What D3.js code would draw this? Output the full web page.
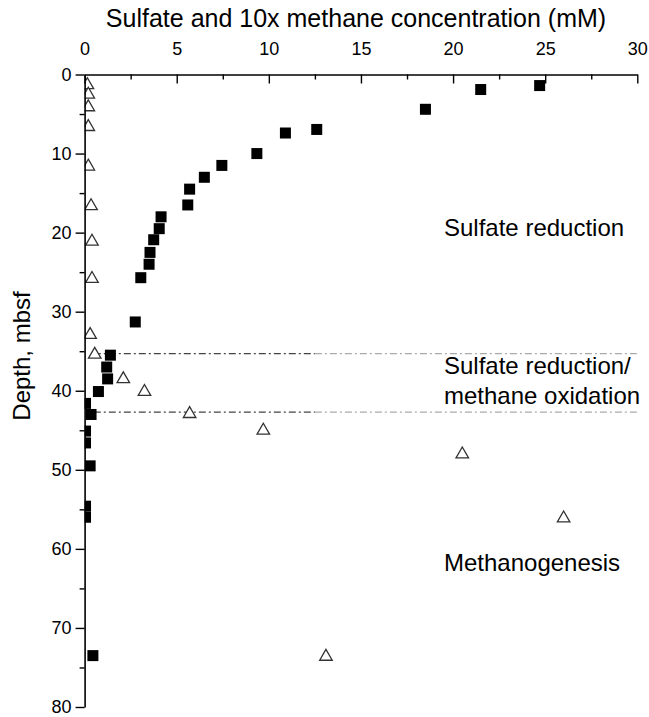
<!DOCTYPE html>
<html>
<head>
<meta charset="utf-8">
<script src="https://cdn.jsdelivr.net/npm/d3@7"></script>
<style>
  body { margin: 0; background: #fff; }
  svg { font-family: "Liberation Sans", Arial, sans-serif; }
</style>
</head>
<body>
<svg id="chart" width="649" height="717"></svg>
<script>
// sulfate (filled squares): depth in mbsf, concentration in mM
const sulfateDepth = [1.4, 1.9, 4.4, 6.95, 7.4, 10.0, 11.5, 13.0, 14.5, 16.5, 18.0, 19.5, 20.9, 22.5, 24.0, 25.7, 31.3,
  35.5, 37.0, 38.5, 40.1, 41.6, 43.0, 45.1, 46.6, 49.5, 54.6, 56.0, 73.5];
const sulfateConc = [24.7, 21.5, 18.5, 12.6, 10.9, 9.35, 7.45, 6.5, 5.7, 5.6, 4.15, 4.05, 3.75, 3.55, 3.5, 3.05, 2.75,
  1.4, 1.2, 1.25, 0.75, 0.05, 0.35, 0.05, 0.05, 0.3, 0.05, 0.05, 0.45];

// methane x10 (open triangles)
const methaneDepth = [1.2, 2.4, 4.0, 6.5, 11.5, 16.5, 21.0, 25.7, 32.8, 35.3, 38.4, 40.0, 42.8, 44.9, 47.9, 56.0, 73.5];
const methaneConc = [0.15, 0.2, 0.2, 0.2, 0.2, 0.35, 0.4, 0.4, 0.3, 0.55, 2.1, 3.25, 5.7, 9.7, 20.5, 26.0, 13.1];

const zoneBounds = [35.3, 42.7];
const zoneLabels = [
  { lines: ["Sulfate reduction"], depth: 20.4 },
  { lines: ["Sulfate reduction/", "methane oxidation"], depth: 37.9 },
  { lines: ["Methanogenesis"], depth: 62.8 }
];

const xTicks = [0, 5, 10, 15, 20, 25, 30];
const yTicks = [0, 10, 20, 30, 40, 50, 60, 70, 80];

const svg = d3.select('#chart');
const x = d3.scaleLinear().domain([0, 30]).range([84.6, 637.3]);
const y = d3.scaleLinear().domain([0, 80]).range([74.5, 707]);

// title
svg.append('text')
  .attr('x', 356).attr('y', 27)
  .attr('text-anchor', 'middle')
  .style('font-size', '25px')
  .text('Sulfate and 10x methane concentration (mM)');

// y label
svg.append('text')
  .attr('transform', 'translate(30,356) rotate(-90)')
  .attr('text-anchor', 'middle')
  .style('font-size', '24px')
  .text('Depth, mbsf');

// boundary lines (dash-dot, darker on the left half)
const bounds = svg.append('g');
zoneBounds.forEach(d => {
  bounds.append('line')
    .attr('x1', x(0.5)).attr('x2', x(12.5))
    .attr('y1', y(d)).attr('y2', y(d))
    .attr('stroke', '#444').attr('stroke-width', 1.3)
    .attr('stroke-dasharray', '7,3,2,3');
  bounds.append('line')
    .attr('x1', x(12.5)).attr('x2', x(30))
    .attr('y1', y(d)).attr('y2', y(d))
    .attr('stroke', '#aaa').attr('stroke-width', 1.2)
    .attr('stroke-dasharray', '7,3,2,3');
});

// zone labels
zoneLabels.forEach(z => {
  const t = svg.append('text')
    .attr('x', 444).attr('y', y(z.depth))
    .style('font-size', '24px');
  z.lines.forEach((l, i) => t.append('tspan').attr('x', 444).attr('dy', i ? 30 : 0).text(l));
});

// markers clipped at the depth axis
svg.append('clipPath').attr('id', 'plotClip')
  .append('rect').attr('x', 84.6).attr('y', 60).attr('width', 600).attr('height', 660);
const plot = svg.append('g').attr('clip-path', 'url(#plotClip)');

const sq = 11;
plot.selectAll('rect.sulfate')
  .data(d3.range(sulfateDepth.length))
  .join('rect')
  .attr('class', 'sulfate')
  .attr('x', i => x(sulfateConc[i]) - sq / 2)
  .attr('y', i => y(sulfateDepth[i]) - sq / 2)
  .attr('width', sq).attr('height', sq)
  .attr('fill', '#000');

const tri = d3.symbol().type(d3.symbolTriangle).size(68);
plot.selectAll('path.methane')
  .data(d3.range(methaneDepth.length))
  .join('path')
  .attr('class', 'methane')
  .attr('transform', i => `translate(${x(methaneConc[i])},${y(methaneDepth[i]) + 1})`)
  .attr('d', tri)
  .attr('fill', '#fff')
  .attr('stroke', '#333')
  .attr('stroke-width', 1.3);

// top axis: major + minor ticks pointing down
svg.append('g')
  .attr('transform', `translate(0,${y(0)})`)
  .call(d3.axisTop(x).tickValues(xTicks).tickSize(-9).tickPadding(20).tickSizeOuter(0));
svg.append('g')
  .attr('transform', `translate(0,${y(0)})`)
  .call(d3.axisTop(x).tickValues(d3.range(2.5, 30, 5)).tickSize(-5).tickFormat('').tickSizeOuter(0))
  .select('.domain').remove();

// left axis: major + minor ticks pointing out
svg.append('g')
  .attr('transform', `translate(${x(0)},0)`)
  .call(d3.axisLeft(y).tickValues(yTicks).tickSize(9).tickPadding(4).tickSizeOuter(0));
svg.append('g')
  .attr('transform', `translate(${x(0)},0)`)
  .call(d3.axisLeft(y).tickValues(d3.range(5, 80, 10)).tickSize(5).tickFormat('').tickSizeOuter(0))
  .select('.domain').remove();

svg.selectAll('.domain').attr('stroke', '#000').attr('stroke-width', 1.6);
svg.selectAll('.tick line').attr('stroke', '#000').attr('stroke-width', 1.4);
svg.selectAll('.tick text')
  .attr('fill', '#000')
  .style('font-size', '18px')
  .style('font-family', '"Liberation Sans", Arial, sans-serif');
</script>
</body>
</html>
